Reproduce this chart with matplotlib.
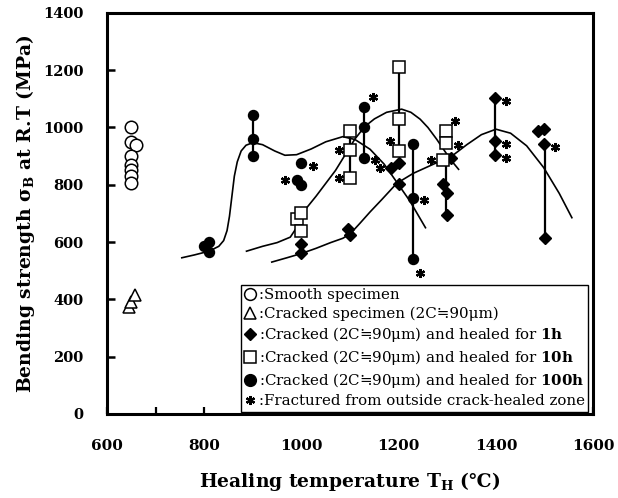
import matplotlib
matplotlib.use("Agg")
import matplotlib.pyplot as plt
import matplotlib.transforms as mtransforms
from matplotlib.lines import Line2D
from matplotlib.ticker import MultipleLocator

plt.rcParams['font.family'] = ['DejaVu Serif', 'DejaVu Sans']
plt.rcParams['mathtext.fontset'] = 'dejavuserif'

# ---------------- data ----------------
smooth_T = [650, 650, 660, 650, 650, 650, 650, 650]
smooth_S = [1000, 950, 940, 900, 870, 850, 830, 805]

cracked_T = [645, 650, 658]
cracked_S = [372, 392, 415]

h1_T = [1000, 1000, 1095, 1100, 1200, 1185, 1200, 1308, 1290, 1300, 1300, 1398, 1398, 1398, 1487, 1499, 1498, 1500]
h1_S = [594, 562, 645, 625, 877, 860, 801, 895, 804, 772, 693, 1102, 953, 903, 986, 996, 941, 615]
h1_ast = [None, None, None, None, None, 'l', None, None, None, None, None, 'r', 'r', 'r', None, None, 'r', None]

h10_T = [990, 1000, 1000, 1100, 1100, 1100, 1200, 1200, 1200, 1298, 1298, 1290]
h10_S = [680, 700, 638, 988, 920, 825, 1212, 1031, 918, 988, 947, 885]
h10_ast = [None, None, None, None, 'l', 'l', None, None, 'ul', 'ur', 'r', 'l']

h100_T = [810, 800, 810, 900, 900, 900, 1000, 990, 1000, 1129, 1129, 1129, 1229, 1229, 1229]
h100_S = [600, 585, 565, 1045, 960, 900, 875, 815, 800, 1073, 1003, 895, 944, 755, 541]
h100_ast = [None, None, None, None, None, None, 'r', 'l', None, 'ur', None, 'r', None, 'r', 'dr']

range_T = [900, 1129, 1229, 1100, 1200, 1298, 1398, 1500]
range_lo = [900, 895, 541, 825, 918, 693, 903, 615]
range_hi = [1045, 1073, 944, 988, 1212, 880, 1102, 941]

curve1_T = [939, 970, 1000, 1030, 1060, 1085, 1100, 1120, 1141, 1165, 1196, 1230, 1278, 1313, 1340, 1370, 1400, 1430, 1463, 1498, 1530, 1556]
curve1_S = [530, 545, 560, 578, 598, 613, 628, 665, 705, 748, 805, 840, 877, 905, 940, 975, 994, 980, 936, 860, 770, 685]

curve10_T = [887, 920, 950, 977, 988, 997, 1010, 1030, 1050, 1070, 1090, 1110, 1130, 1150, 1175, 1206, 1225, 1244, 1260, 1278, 1292, 1306, 1323]
curve10_S = [568, 585, 598, 617, 645, 690, 718, 760, 805, 850, 905, 960, 1003, 1030, 1053, 1064, 1053, 1029, 1000, 959, 924, 889, 854]

curve100_T = [754, 780, 810, 830, 840, 847, 852, 857, 862, 868, 876, 886, 900, 920, 945, 966, 990, 1020, 1050, 1085, 1110, 1141, 1170, 1189, 1223, 1255]
curve100_S = [545, 555, 568, 585, 605, 640, 690, 760, 830, 880, 918, 938, 947, 940, 918, 903, 905, 925, 950, 968, 958, 924, 872, 826, 743, 650]

x_ticks = [600, 800, 1000, 1200, 1400, 1600]
y_ticks = [0, 200, 400, 600, 800, 1000, 1200, 1400]

# ---------------- figure ----------------
fig = plt.figure(figsize=(6.18, 4.98), dpi=100)
ax = fig.add_axes([0.173, 0.169, 0.787, 0.805])

ax.set_xlim(600, 1600)
ax.set_ylim(0, 1400)

# curves
for cx, cy in [(curve1_T, curve1_S), (curve10_T, curve10_S), (curve100_T, curve100_S)]:
    ax.plot(cx, cy, color='black', lw=1.2, zorder=2, solid_joinstyle='round')

# range lines
ax.vlines(range_T, range_lo, range_hi, colors='black', lw=1.6, zorder=2)

# markers
ax.plot(smooth_T, smooth_S, ls='none', marker='o', ms=9, mfc='white', mec='black', mew=1.1, zorder=3)
ax.plot(cracked_T, cracked_S, ls='none', marker='^', ms=9, mfc='white', mec='black', mew=1.1, zorder=3)
ax.plot(h1_T, h1_S, ls='none', marker='D', ms=6, mfc='black', mec='black', zorder=4)
ax.plot(h10_T, h10_S, ls='none', marker='s', ms=8.5, mfc='white', mec='black', mew=1.1, zorder=4)
ax.plot(h100_T, h100_S, ls='none', marker='o', ms=7.2, mfc='black', mec='black', zorder=4)

AST = dict(marker=(6, 2, 0), ms=6.5, mew=1.6, color='black', ls='none')
offs = {'r': (8, -2), 'l': (-8, 0), 'ur': (6, 7), 'ul': (-6, 7), 'dr': (5, -10), 'u': (0, 9)}

def asterisks(T, S, flags):
    for t, s, f in zip(T, S, flags):
        if f is None:
            continue
        dx, dy = offs[f]
        ax.plot([t], [s], **AST, zorder=5,
                transform=ax.transData + mtransforms.ScaledTranslation(dx / 72, dy / 72, fig.dpi_scale_trans))

asterisks(h1_T, h1_S, h1_ast)
asterisks(h10_T, h10_S, h10_ast)
asterisks(h100_T, h100_S, h100_ast)

# axes styling
for sp in ax.spines.values():
    sp.set_linewidth(2.2)
ax.set_xticks(x_ticks)
ax.xaxis.set_minor_locator(MultipleLocator(100))
ax.set_yticks(y_ticks)
ax.tick_params(axis='x', which='both', direction='in', length=5, width=1.6, pad=18, labelsize=11)
ax.tick_params(axis='y', which='both', direction='in', length=6, width=1.8, pad=17, labelsize=10.5)
for lab in ax.get_xticklabels() + ax.get_yticklabels():
    lab.set_fontweight('bold')

ax.set_xlabel('Healing temperature T$_\\mathregular{H}$ (℃)', fontsize=13.5, fontweight='bold', labelpad=12)
ax.set_ylabel('Bending strength σ$_\\mathregular{B}$ at R.T (MPa)', fontsize=13.5, fontweight='bold', labelpad=4)

# legend
handles = [
    Line2D([], [], ls='none', marker='o', ms=8.5, mfc='white', mec='black', mew=1.1),
    Line2D([], [], ls='none', marker='^', ms=9, mfc='white', mec='black', mew=1.1),
    Line2D([], [], ls='none', marker='D', ms=6, mfc='black', mec='black'),
    Line2D([], [], ls='none', marker='s', ms=8.5, mfc='white', mec='black', mew=1.1),
    Line2D([], [], ls='none', marker='o', ms=8.5, mfc='black', mec='black'),
    Line2D([], [], **AST),
]
labels = [
    ':Smooth specimen',
    ':Cracked specimen (2C≒90μm)',
    ':Cracked (2C≒90μm) and healed for $\\mathbf{1h}$',
    ':Cracked (2C≒90μm) and healed for $\\mathbf{10h}$',
    ':Cracked (2C≒90μm) and healed for $\\mathbf{100h}$',
    ':Fractured from outside crack-healed zone',
]
leg = ax.legend(handles, labels, loc='lower right', bbox_to_anchor=(0.99, 0.005), borderaxespad=0,
                fontsize=10.8, handlelength=0.8, handletextpad=0.15, labelspacing=0.27,
                borderpad=0.25, fancybox=False, framealpha=1, edgecolor='black')
leg.get_frame().set_linewidth(1.0)

fig.savefig('out.png', dpi=100)
